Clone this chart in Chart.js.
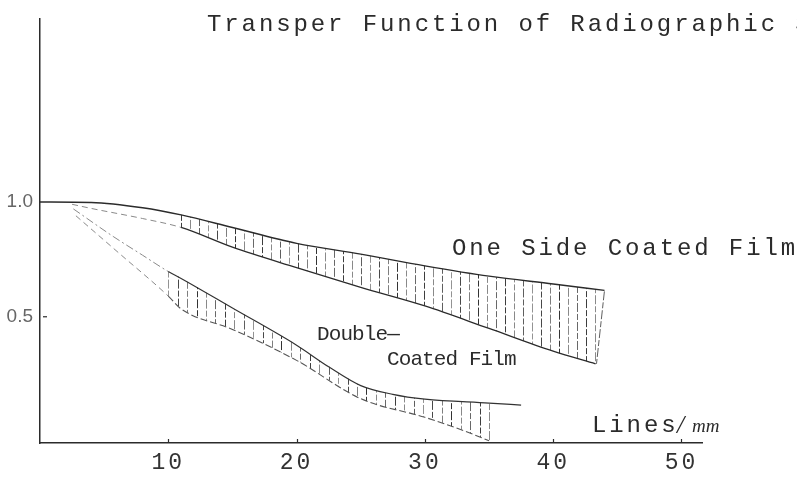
<!DOCTYPE html>
<html>
<head>
<meta charset="utf-8">
<script src="https://cdn.jsdelivr.net/npm/chart.js@4.4.1/dist/chart.umd.min.js"></script>
<style>
  html, body { margin: 0; padding: 0; background: #fff; }
  canvas { display: block; }
</style>
</head>
<body>
<canvas id="mtf" width="797" height="477"></canvas>
<script>
// Spatial frequency (lines/mm) and response of the two film types.
// Each band is bounded by an upper and a lower curve.
const oneSideUpperFreq = [0, 4, 8, 11, 15, 20, 25, 30, 35, 40, 44];
const oneSideUpperMtf  = [1.00, 0.998, 0.975, 0.944, 0.889, 0.82, 0.773, 0.722, 0.677, 0.643, 0.615];
const oneSideLowerFreq = [2.5, 4, 8, 11, 15, 20, 25, 30, 35, 40, 43.3];
const oneSideLowerMtf  = [0.99, 0.972, 0.928, 0.889, 0.803, 0.714, 0.628, 0.547, 0.449, 0.35, 0.295];

const doubleUpperFreq = [2.6, 5.7, 8, 10, 11, 15, 20, 22.5, 25, 27.5, 30, 35, 37.5];
const doubleUpperMtf  = [0.97, 0.85, 0.768, 0.697, 0.667, 0.538, 0.376, 0.282, 0.2, 0.162, 0.141, 0.124, 0.115];
const doubleLowerFreq = [2.8, 6.1, 10, 11, 15, 20, 25, 30, 33, 35];
const doubleLowerMtf  = [0.94, 0.78, 0.59, 0.534, 0.445, 0.31, 0.143, 0.062, 0.004, -0.04];

// Frequency range over which each band is hatched.
const oneSideHatchRange = [11, 44];
const doubleHatchRange  = [10, 35];

const xTickValues = [10, 20, 30, 40, 50];
const xTickLabels = ['10', '20', '30', '40', '50'];
const yTickValues = [0.5, 1.0];
const yTickLabels = ['0.5', '1.0'];

const MONO = "'Liberation Mono', 'Courier New', monospace";
const INK = '#2b2b2b';
const FAINT = '#8a8a8a';

const toPoints = (xs, ys) => xs.map((x, i) => ({ x, y: ys[i] }));

// A boundary curve: faint and dashed where it runs outside the hatched range.
function boundary(label, xs, ys, hatchFrom, opts) {
  const before = c => c.p1.parsed.x <= hatchFrom;
  return {
    label,
    data: toPoints(xs, ys),
    borderColor: INK,
    borderWidth: opts.width || 1.3,
    pointRadius: 0,
    fill: false,
    cubicInterpolationMode: 'monotone',
    segment: {
      borderColor: c => before(c) ? opts.leadColor : opts.color,
      borderDash: c => before(c) ? opts.leadDash : opts.dash,
      borderWidth: c => before(c) ? 1 : (opts.width || 1.3)
    }
  };
}

const datasets = [
  boundary('One side coated, upper', oneSideUpperFreq, oneSideUpperMtf, -1,
    { color: INK, dash: [], leadColor: INK, leadDash: [], width: 1.4 }),
  boundary('One side coated, lower', oneSideLowerFreq, oneSideLowerMtf, oneSideHatchRange[0],
    { color: INK, dash: [], leadColor: FAINT, leadDash: [6, 4], width: 1.3 }),
  boundary('Double coated, upper', doubleUpperFreq, doubleUpperMtf, doubleHatchRange[0],
    { color: '#333', dash: [], leadColor: FAINT, leadDash: [8, 3, 2, 3], width: 1.2 }),
  boundary('Double coated, lower', doubleLowerFreq, doubleLowerMtf, doubleHatchRange[0],
    { color: '#555', dash: [7, 3], leadColor: FAINT, leadDash: [6, 4], width: 1.1 })
];

const bands = [
  { upper: 0, lower: 1, range: oneSideHatchRange, gap: 9 },
  { upper: 2, lower: 3, range: doubleHatchRange, gap: 9.5 }
];

// Point on a drawn curve at a given pixel x, held at the curve's ends.
function pointAt(line, px) {
  const pts = line.points;
  const first = pts[0], last = pts[pts.length - 1];
  if (px <= first.x) return { x: first.x, y: first.y };
  if (px >= last.x) return { x: last.x, y: last.y };
  const r = line.interpolate({ x: px }, 'x');
  const p = Array.isArray(r) ? r[0] : r;
  return p ? { x: px, y: p.y } : { x: px, y: last.y };
}

// Vertical hatching between the two curves of each band.
const hatchPlugin = {
  id: 'hatch',
  beforeDatasetsDraw(chart) {
    const ctx = chart.ctx;
    const xs = chart.scales.x;
    const shades = [0.9, 0.55, 0.75, 0.5, 0.85, 0.6, 0.95, 0.55, 0.7];
    bands.forEach((b, bi) => {
      const up = chart.getDatasetMeta(b.upper).dataset;
      const lo = chart.getDatasetMeta(b.lower).dataset;
      const p0 = xs.getPixelForValue(b.range[0]);
      const p1 = xs.getPixelForValue(b.range[1]);
      const n = Math.max(1, Math.round((p1 - p0) / b.gap));
      ctx.save();
      ctx.lineWidth = 1;
      for (let k = 0; k <= n; k++) {
        const px = p0 + k * (p1 - p0) / n;
        const top = pointAt(up, px);
        const bot = pointAt(lo, px);
        ctx.strokeStyle = `rgba(40,40,40,${shades[(k + bi * 3) % shades.length]})`;
        ctx.setLineDash([6, 2, 9, 2]);
        ctx.lineDashOffset = (k * 5) % 19;
        ctx.beginPath();
        ctx.moveTo(Math.round(top.x) + 0.5, top.y);
        ctx.lineTo(Math.round(bot.x) + 0.5, bot.y);
        ctx.stroke();
      }
      ctx.restore();
    });
  },
  afterDatasetsDraw(chart) {
    // typewriter spacing for the frequency labels drawn next
    chart.ctx.letterSpacing = '3px';
  },
  afterDraw(chart) {
    const ctx = chart.ctx;
    const { x: xs, y: ys } = chart.scales;
    const area = chart.chartArea;
    ctx.save();
    ctx.letterSpacing = '0px';
    ctx.strokeStyle = INK;
    ctx.lineWidth = 1.2;
    // short inward tick marks
    xTickValues.forEach(v => {
      const px = Math.round(xs.getPixelForValue(v)) + 0.5;
      ctx.beginPath();
      ctx.moveTo(px, area.bottom);
      ctx.lineTo(px, area.bottom - 4);
      ctx.stroke();
    });
    const py = ys.getPixelForValue(0.5);
    ctx.beginPath();
    ctx.moveTo(area.left + 3, py);
    ctx.lineTo(area.left + 7, py);
    ctx.stroke();

    // chart text in typewriter face
    const notes = [
      { text: 'Transper Function of Radiographic S', x: 207, y: 31, size: 24, spacing: 2.9 },
      { text: 'One Side Coated Film', x: 452, y: 255, size: 24, spacing: 2.9 },
      { text: 'Double\u2014', x: 317, y: 340, size: 21, spacing: -0.9 },
      { text: 'Coated Film', x: 387, y: 365, size: 21, spacing: -0.9 },
      { text: 'Lines', x: 592, y: 432, size: 24, spacing: 2.9 }
    ];
    ctx.fillStyle = INK;
    ctx.textBaseline = 'alphabetic';
    ctx.textAlign = 'left';
    notes.forEach(n => {
      ctx.font = `${n.size}px ${MONO}`;
      ctx.letterSpacing = `${n.spacing}px`;
      ctx.fillText(n.text, n.x, n.y);
    });
    ctx.letterSpacing = '0px';
    ctx.font = "italic 26px 'Liberation Serif', serif";
    ctx.fillText('/', 677, 433);
    ctx.font = "italic 19px 'Liberation Serif', serif";
    ctx.fillText('mm', 692, 432);
    ctx.restore();
  }
};

new Chart(document.getElementById('mtf'), {
  type: 'line',
  data: { datasets },
  options: {
    responsive: false,
    devicePixelRatio: 1,
    animation: false,
    layout: { padding: { top: 10, right: 95, bottom: 0, left: 0 } },
    plugins: { legend: { display: false }, tooltip: { enabled: false } },
    scales: {
      x: {
        type: 'linear',
        min: 0,
        max: 51.6,
        afterBuildTicks: s => { s.ticks = xTickValues.map(v => ({ value: v })); },
        ticks: {
          callback: (v, i) => xTickLabels[i],
          font: { family: MONO, size: 23 },
          color: '#333',
          padding: 6,
          autoSkip: false,
          maxRotation: 0,
          z: 1
        },
        grid: { display: false, drawTicks: false },
        border: { display: true, color: INK, width: 1.5 },
        afterFit: s => { s.height = 34; }
      },
      y: {
        type: 'linear',
        min: -0.05,
        max: 1.8,
        afterBuildTicks: s => { s.ticks = yTickValues.map(v => ({ value: v })); },
        ticks: {
          callback: (v, i) => yTickLabels[i],
          font: { family: "'Liberation Sans Narrow', 'Liberation Sans', sans-serif", size: 19 },
          color: '#666',
          padding: 7
        },
        grid: { display: false, drawTicks: false },
        border: { display: true, color: INK, width: 1.5 },
        afterFit: s => { s.width = 40; }
      }
    }
  },
  plugins: [hatchPlugin]
});
</script>
</body>
</html>
